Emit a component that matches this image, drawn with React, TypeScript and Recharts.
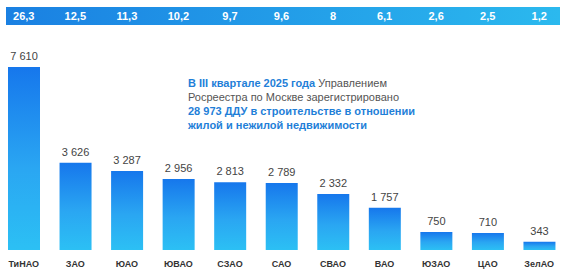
import { BarChart, Bar, XAxis, YAxis, LabelList } from "recharts";

const districts = ["ТиНАО", "ЗАО", "ЮАО", "ЮВАО", "СЗАО", "САО", "СВАО", "ВАО", "ЮЗАО", "ЦАО", "ЗелАО"];
const contracts = [7610, 3626, 3287, 2956, 2813, 2789, 2332, 1757, 750, 710, 343];
const shares = ["26,3", "12,5", "11,3", "10,2", "9,7", "9,6", "8", "6,1", "2,6", "2,5", "1,2"];

const data = districts.map((name, i) => ({ name, value: contracts[i], share: shares[i] }));

// thousands separated by a non-breaking space so the label stays on one line
const fmt = (v: number) => String(v).replace(/\B(?=(\d{3})+(?!\d))/g, "\u00A0");

const FONT = "Arial, 'Liberation Sans', sans-serif";
const BLUE = "#1f7fd8";

const ShareTick = ({ x, payload }: any) => (
  <text x={x} y={20} textAnchor="middle" fill="#fff" fontSize={11} fontWeight="bold" fontFamily={FONT}>
    {payload.value}
  </text>
);

const ValueLabel = ({ x, y, width, value }: any) => (
  <text x={x + width / 2} y={y - 7} textAnchor="middle" fill="#444" fontSize={11} fontFamily={FONT}>
    {fmt(Number(value))}
  </text>
);

export default function App() {
  return (
    <div style={{ position: "absolute", left: 0, top: 0, width: 572, height: 274, background: "#fff", fontFamily: FONT }}>
      {/* percent strip */}
      <div
        style={{
          position: "absolute",
          left: 6,
          top: 7,
          width: 554,
          height: 18,
          background: "linear-gradient(to right, #1a80e2, #2bb9ee)",
        }}
      />

      <div style={{ position: "absolute", left: -2, top: 0 }}>
        <BarChart width={567} height={274} data={data} margin={{ top: 0, right: 0, bottom: 0, left: 0 }}>
          <defs>
            <linearGradient id="barFill" x1="0" y1="0" x2="0" y2="1">
              <stop offset="0%" stopColor="#1677ec" />
              <stop offset="55%" stopColor="#2aa6f2" />
              <stop offset="100%" stopColor="#2cc0f4" />
            </linearGradient>
          </defs>
          <XAxis
            xAxisId="top"
            orientation="top"
            dataKey="share"
            height={60}
            axisLine={false}
            tickLine={false}
            tick={<ShareTick />}
            interval={0}
          />
          <XAxis
            dataKey="name"
            height={24}
            axisLine={false}
            tickLine={false}
            interval={0}
            tick={{ fill: "#333", fontSize: 9, fontWeight: "bold", fontFamily: FONT, dy: 3 }}
          />
          <YAxis hide domain={[0, 7900]} />
          <Bar dataKey="value" fill="url(#barFill)" barSize={32} isAnimationActive={false}>
            <LabelList dataKey="value" content={<ValueLabel />} />
          </Bar>
        </BarChart>
      </div>

      {/* note */}
      <div style={{ position: "absolute", left: 188, top: 76, fontSize: 11, lineHeight: "14px", color: "#555", whiteSpace: "nowrap" }}>
        <div>
          <b style={{ color: BLUE }}>В III квартале 2025 года</b> Управлением
        </div>
        <div>Росреестра по Москве зарегистрировано</div>
        <div>
          <b style={{ color: BLUE }}>28 973 ДДУ в строительстве в отношении</b>
        </div>
        <div>
          <b style={{ color: BLUE }}>жилой и нежилой недвижимости</b>
        </div>
      </div>
    </div>
  );
}
